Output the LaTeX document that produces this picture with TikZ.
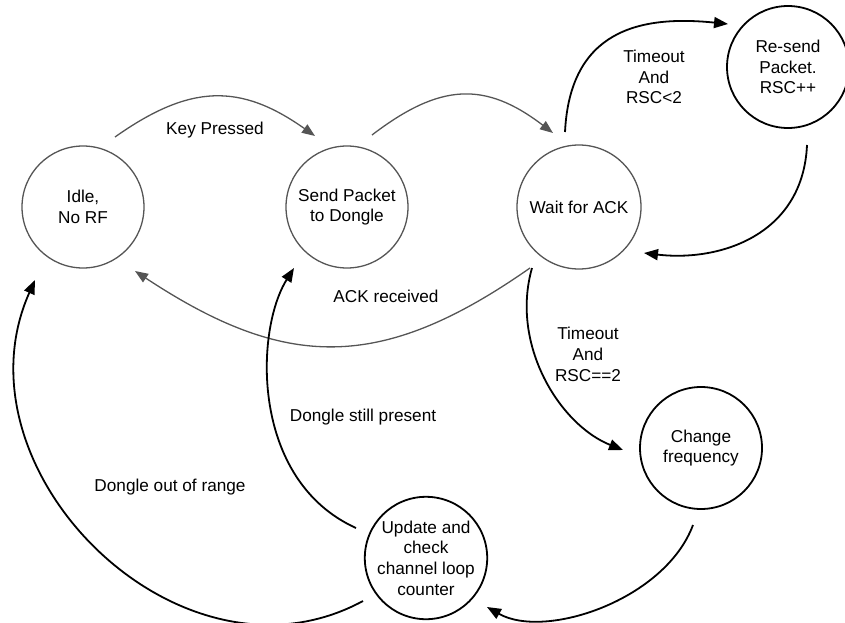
\documentclass[tikz,border=0pt]{standalone}
\usepackage{fontspec}
\setmainfont{Liberation Sans}
\usetikzlibrary{arrows.meta,calc}
\definecolor{linegray}{RGB}{85,85,85}
\tikzset{
  every node/.style={font=\fontsize{17.2}{20.7}\selectfont, inner sep=0pt},
  graystate/.style={circle, draw=linegray, line width=1.3pt, minimum size=122pt, align=center},
  blackstate/.style={circle, draw=black, line width=1.8pt, minimum size=122pt, align=center},
  grayarrow/.style={draw=linegray, line width=1.3pt, -{Triangle[length=13pt,width=10pt]}},
  blackarrow/.style={draw=black, line width=1.8pt, -{Triangle[length=14pt,width=11pt]}},
  lbl/.style={align=center, anchor=base}
}
\begin{document}
\begin{tikzpicture}[x=1pt,y=-1pt]
\useasboundingbox (0,0) rectangle (845,623);

\node[graystate] (idle) at (83,207) {Idle,\\No RF};
\node[graystate] (send) at (347,207) {Send Packet\\to Dongle};
\node[graystate, minimum size=124pt] (wait) at (579,207) {Wait for ACK};
\node[blackstate] (resend) at (788,67) {Re-send\\Packet.\\RSC++};
\node[blackstate] (change) at (701,448) {Change\\frequency};
\node[blackstate] (update) at (426,558) {Update and\\check\\channel loop\\counter};

% Key pressed
\draw[grayarrow] ($(idle)+(32,-70)$) .. controls +(75,-53) and +(-75,-53) .. ($(send)+(-32,-71)$);
% Send -> Wait
\draw[grayarrow] ($(send)+(25,-72)$) .. controls +(68,-52) and +(-68,-52) .. ($(wait)+(-26,-74)$);
% Wait -> Resend
\draw[blackarrow] ($(wait)+(-14,-75)$) .. controls +(5,-102) and +(-88,-9) .. ($(resend)+(-60,-43)$);
% Resend -> Wait
\draw[blackarrow] ($(resend)+(19,78)$) .. controls +(-4,90) and +(76,9) .. ($(wait)+(65,46)$);
% ACK received
\draw[grayarrow] ($(wait)+(-49,61)$) .. controls +(-150,105) and +(150,99) .. ($(idle)+(52,64)$);
% Wait -> Change
\draw[blackarrow] ($(wait)+(-47,61)$) .. controls +(-22,77) and +(-63,-25) .. ($(change)+(-78,2)$);
% Change -> Update
\draw[blackarrow] ($(change)+(-8,77)$) .. controls +(-28,75) and +(58,33) .. ($(update)+(61,49)$);
% Update -> Send
\draw[blackarrow] ($(update)+(-70,-30)$) .. controls +(-106,-48) and +(-39,62) .. ($(send)+(-53,61)$);
% Update -> Idle
\draw[blackarrow] ($(update)+(-63,43)$) .. controls +(-183,99) and +(-85,190) .. ($(idle)+(-48,73)$);

\node[lbl] (lkey) at (215,135) {Key Pressed};
\node[lbl] (lrsc2) at (654,104) {Timeout\\And\\RSC<2};
\node[lbl] (lack) at (386,302) {ACK received};
\node[lbl] (lrsceq) at (588,381) {Timeout\\And\\RSC==2};
\node[lbl] (lstill) at (363,421) {Dongle still present};
\node[lbl] (lout) at (170,491) {Dongle out of range};
\end{tikzpicture}
\end{document}
